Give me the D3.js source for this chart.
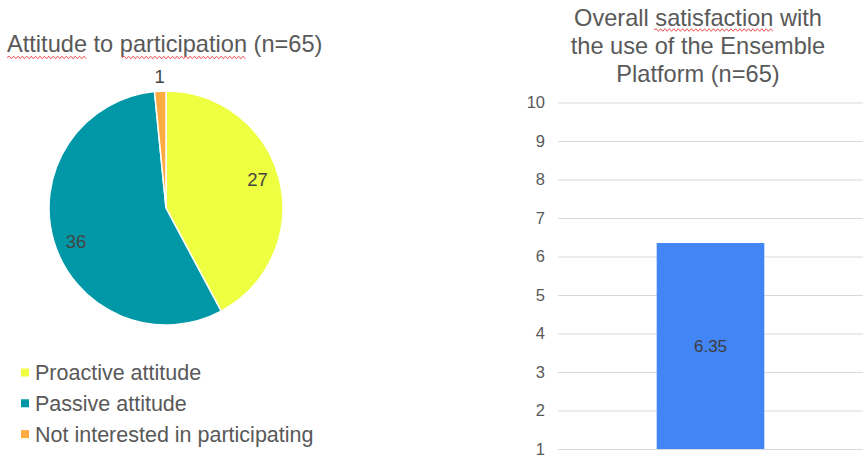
<!DOCTYPE html>
<html>
<head>
<meta charset="utf-8">
<script src="https://cdn.jsdelivr.net/npm/d3@7"></script>
<style>
  html, body { margin: 0; padding: 0; background: #fff; }
  svg { display: block; font-family: "Liberation Sans", Arial, sans-serif; }
</style>
</head>
<body>
<svg id="chart" width="863" height="457"></svg>
<script>
// Attitude to participation
const attitudeCategories = ["Proactive attitude", "Passive attitude", "Not interested in participating"];
const attitudeCounts = [27, 36, 1];
const attitudeColors = ["#eeff41", "#0097a7", "#ffab40"];

// Overall satisfaction score
const satisfactionCategories = ["Overall satisfaction"];
const satisfactionValues = [6.35];
const satisfactionTicks = [1, 2, 3, 4, 5, 6, 7, 8, 9, 10];

const svg = d3.select("#chart");
const textColor = "#595959";

// wavy red underline used beneath some title words
function squiggle(x0, x1, y) {
  const step = 2.2, amp = 1.3;
  let d = `M${x0},${y}`;
  let up = true;
  for (let x = x0 + step; x <= x1; x += step) {
    d += `L${x.toFixed(1)},${(y + (up ? -amp : amp)).toFixed(1)}`;
    up = !up;
  }
  return d;
}

/* ---------- Pie ---------- */
const pieG = svg.append("g");
pieG.append("text")
  .attr("x", 7).attr("y", 52)
  .attr("font-size", 23.6).attr("fill", textColor)
  .text("Attitude to participation (n=65)");
[[7, 88], [122, 247]].forEach(([a, b]) => {
  pieG.append("path").attr("d", squiggle(a, b, 57.5))
    .attr("fill", "none").attr("stroke", "#f05050").attr("stroke-width", 1);
});

const cx = 166, cy = 208, r = 117;
const pie = d3.pie().sort(null).value(d => d.v);
const arcs = pie(attitudeCounts.map((v, i) => ({ v, i })));
const arc = d3.arc().innerRadius(0).outerRadius(r);
const pg = pieG.append("g").attr("transform", `translate(${cx},${cy})`);
pg.selectAll("path").data(arcs).join("path")
  .attr("d", arc)
  .attr("fill", d => attitudeColors[d.data.i])
  .attr("stroke", "#fff").attr("stroke-width", 1.5);

// value labels: inside large slices, just outside tiny ones
function labelPos(d) {
  const small = (d.endAngle - d.startAngle) < 0.3;
  const rr = small ? r + 15 : r * 0.82;
  const a = (d.startAngle + d.endAngle) / 2 - (small ? 0 : 0.06);
  return [Math.sin(a) * rr, -Math.cos(a) * rr];
}
pg.selectAll("text").data(arcs).join("text")
  .attr("transform", d => `translate(${labelPos(d)})`)
  .attr("text-anchor", "middle").attr("dy", "0.35em")
  .attr("font-size", 18.5).attr("fill", "#444")
  .text(d => d.data.v);

// legend
const legend = pieG.append("g");
attitudeCategories.forEach((c, i) => {
  const y = 372.5 + i * 30.8;
  legend.append("rect").attr("x", 21).attr("y", y - 4).attr("width", 8).attr("height", 8)
    .attr("fill", attitudeColors[i]);
  legend.append("text").attr("x", 35).attr("y", y).attr("dy", "0.35em")
    .attr("font-size", 21.5).attr("fill", textColor).text(c);
});

/* ---------- Bar ---------- */
const barG = svg.append("g");
const titleLines = ["Overall satisfaction with", "the use of the Ensemble", "Platform (n=65)"];
barG.selectAll("text.title").data(titleLines).join("text")
  .attr("class", "title")
  .attr("x", 698).attr("y", (d, i) => 26 + i * 27.8)
  .attr("text-anchor", "middle")
  .attr("font-size", 23.6).attr("fill", textColor)
  .text(d => d);
barG.append("path").attr("d", squiggle(654, 773, 30))
  .attr("fill", "none").attr("stroke", "#f05050").attr("stroke-width", 1);

const y = d3.scaleLinear().domain([1, 10]).range([449, 102.5]);
const x = d3.scaleBand().domain(satisfactionCategories).range([558, 863]).paddingInner(0).paddingOuter(0.917);

const yAxis = d3.axisLeft(y).tickValues(satisfactionTicks).tickSize(-(863 - 558)).tickPadding(13);
const ax = barG.append("g").attr("transform", "translate(558,0)").call(yAxis);
ax.select(".domain").remove();
ax.selectAll(".tick line").attr("stroke", "#d9d9d9").attr("stroke-width", 1);
ax.selectAll(".tick text").attr("font-size", 16.5).attr("fill", textColor)
  .attr("font-family", "Liberation Sans, Arial, sans-serif");

barG.selectAll("rect.bar").data(satisfactionValues).join("rect")
  .attr("class", "bar")
  .attr("x", (d, i) => x(satisfactionCategories[i]))
  .attr("width", x.bandwidth())
  .attr("y", d => y(d))
  .attr("height", d => y(1) - y(d))
  .attr("fill", "#4285f4");

barG.selectAll("text.val").data(satisfactionValues).join("text")
  .attr("class", "val")
  .attr("x", (d, i) => x(satisfactionCategories[i]) + x.bandwidth() / 2)
  .attr("y", d => (y(d) + y(1)) / 2)
  .attr("dy", "0.35em").attr("text-anchor", "middle")
  .attr("font-size", 17).attr("fill", "#3c3c3c")
  .text(d => d.toFixed(2));
</script>
</body>
</html>
